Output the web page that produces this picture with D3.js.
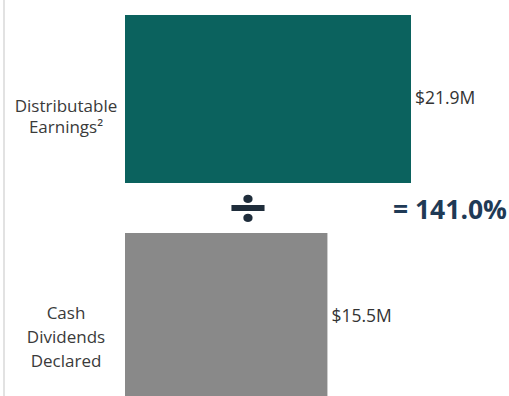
<!DOCTYPE html>
<html>
<head>
<meta charset="utf-8">
<script src="https://cdn.jsdelivr.net/npm/d3@7"></script>
<style>
  html, body { margin: 0; padding: 0; background: #fff; }
  svg { display: block; font-family: "Open Sans", sans-serif; }
</style>
</head>
<body>
<svg id="chart"></svg>
<script>
// Data
const categories = ["Distributable Earnings", "Cash Dividends Declared"];
const categoryLines = [["Distributable", "Earnings²"], ["Cash", "Dividends", "Declared"]];
const values = [21.9, 15.5];
const valueLabels = ["$21.9M", "$15.5M"];
const ratioLabel = "= 141.0%";
const barColors = ["#0b625e", "#898989"];

const width = 509;
const height = 396;

const svg = d3.select("#chart")
    .attr("width", width)
    .attr("height", height);

const x = d3.scaleLinear()
    .domain([0, 21.9])
    .range([125, 411]);

const y = d3.scaleBand()
    .domain(categories)
    .range([15, 401])
    .paddingInner(0.2294)
    .paddingOuter(0);

// faint rule on the left edge
svg.append("line")
    .attr("x1", 4).attr("x2", 4)
    .attr("y1", 0).attr("y2", height)
    .style("stroke", "#e2e2e2")
    .style("stroke-width", 2);

// bars
svg.selectAll("rect.bar")
    .data(values)
    .join("rect")
    .attr("class", "bar")
    .attr("x", x(0))
    .attr("y", (d, i) => y(categories[i]))
    .attr("width", d => x(d) - x(0))
    .attr("height", y.bandwidth())
    .style("fill", (d, i) => barColors[i]);

// value labels
svg.selectAll("text.value")
    .data(values)
    .join("text")
    .attr("class", "value")
    .attr("x", d => x(d) + 4)
    .attr("y", (d, i) => y(categories[i]) + y.bandwidth() / 2 - 1)
    .attr("dy", "0.35em")
    .style("font-size", "17.5px")
    .style("fill", "#333")
    .text((d, i) => valueLabels[i]);

// category labels (multi-line, centred)
const lineGap = [21, 24];
const labelShift = [18, 20];
categories.forEach((c, i) => {
    const lines = categoryLines[i];
    const cy = y(c) + y.bandwidth() / 2 + labelShift[i];
    const t = svg.append("text")
        .attr("x", 66)
        .attr("y", cy)
        .attr("text-anchor", "middle")
        .style("font-size", "17px")
        .style("fill", "#3a3a3a");
    lines.forEach((line, j) => {
        t.append("tspan")
            .attr("x", 66)
            .attr("y", cy + (j - (lines.length - 1) / 2) * lineGap[i])
            .attr("dy", "0.35em")
            .text(line);
    });
});

// divide sign between the bars
const midY = (y(categories[0]) + y.bandwidth() + y(categories[1])) / 2;
svg.append("text")
    .attr("transform", `translate(248,${midY}) scale(1.22,1)`)
    .attr("dy", "0.35em")
    .attr("text-anchor", "middle")
    .style("font-size", "56px")
    .style("font-weight", "bold")
    .style("fill", "#1f2d3b")
    .text("÷");

// ratio
svg.append("text")
    .attr("x", 507)
    .attr("y", midY + 2)
    .attr("dy", "0.35em")
    .attr("text-anchor", "end")
    .style("font-size", "26.5px")
    .style("font-weight", "bold")
    .style("fill", "#1f3a56")
    .text(ratioLabel);
</script>
</body>
</html>
